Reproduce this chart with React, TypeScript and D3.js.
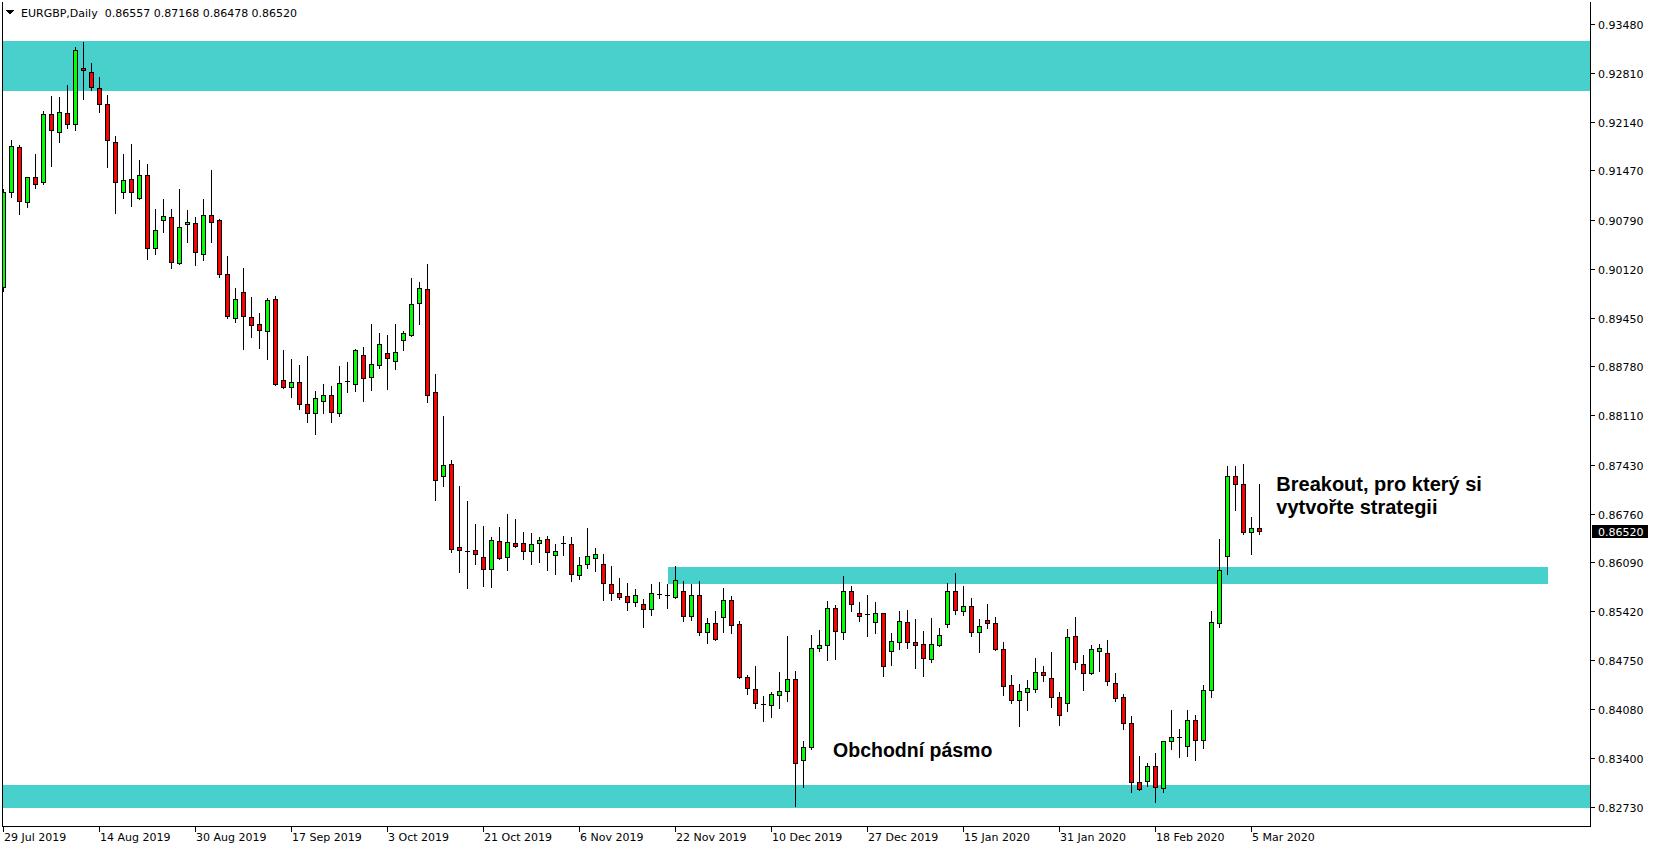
import React from "react";
import * as d3 from "d3";

const W = 1654;
const H = 850;

const chartTitle = "EURGBP,Daily";
const headerOHLC = ["0.86557", "0.87168", "0.86478", "0.86520"];
const lastPrice = 0.8652;

const opens = [
  0.89874, 0.91178, 0.91788, 0.91041, 0.91376, 0.91316, 0.9224, 0.92002, 0.92254, 0.92111,
  0.92872, 0.92816, 0.92597, 0.92378, 0.91856, 0.91169, 0.91349, 0.91095, 0.91403, 0.90409,
  0.90794, 0.90827, 0.90196, 0.90731, 0.90745, 0.9033, 0.90854, 0.90786, 0.90044, 0.8944,
  0.89797, 0.89454, 0.89358, 0.89262, 0.89702, 0.8859, 0.88494, 0.88562, 0.8826, 0.88137,
  0.88301, 0.88383, 0.88137, 0.88584, 0.88535, 0.88932, 0.88631, 0.88795, 0.8896, 0.8885,
  0.89139, 0.89207, 0.89647, 0.89839, 0.88424, 0.87272, 0.87437, 0.86298, 0.8625, 0.86256,
  0.8616, 0.85996, 0.8638, 0.8616, 0.86353, 0.86353, 0.86242, 0.86353, 0.86408, 0.86187,
  0.86353, 0.86339, 0.85913, 0.86064, 0.86146, 0.86064, 0.8579, 0.85666, 0.85625, 0.85542,
  0.85515, 0.85447, 0.8566, 0.85646, 0.85611, 0.85693, 0.8535, 0.85638, 0.8513, 0.85255,
  0.85337, 0.8557, 0.85241, 0.84513, 0.84349, 0.84151, 0.84129, 0.84266, 0.84321, 0.84486,
  0.83374, 0.83553, 0.84911, 0.84952, 0.8546, 0.8513, 0.85693, 0.85392, 0.85382, 0.85268,
  0.85392, 0.8487, 0.84993, 0.85268, 0.84993, 0.84966, 0.8476, 0.84952, 0.85241, 0.85693,
  0.85419, 0.85487, 0.8513, 0.85296, 0.85255, 0.84898, 0.84403, 0.84198, 0.84307, 0.84349,
  0.84581, 0.84499, 0.8424, 0.84157, 0.85075, 0.84692, 0.84568, 0.8487, 0.84843, 0.84431,
  0.8424, 0.83882, 0.83072, 0.83086, 0.83292, 0.8299, 0.83635, 0.83694, 0.83566, 0.83923,
  0.83649, 0.84335, 0.85255, 0.86174, 0.87272, 0.87162, 0.86503, 0.86557,
];
const highs = [
  0.91212, 0.91888, 0.91815, 0.9138, 0.91691, 0.92285, 0.92492, 0.92478, 0.92642, 0.9316,
  0.93228, 0.92941, 0.92748, 0.92501, 0.91939, 0.91691, 0.91829, 0.91609, 0.91554, 0.90937,
  0.91074, 0.90937, 0.91212, 0.90923, 0.90827, 0.91074, 0.91472, 0.908, 0.90292, 0.89852,
  0.90127, 0.89729, 0.89509, 0.89715, 0.89743, 0.89001, 0.88878, 0.88795, 0.88919, 0.88438,
  0.88535, 0.88508, 0.88782, 0.88836, 0.89016, 0.89043, 0.89358, 0.89235, 0.89207, 0.89358,
  0.89262, 0.89989, 0.89934, 0.90182, 0.88672, 0.88096, 0.87492, 0.87135, 0.86929, 0.86613,
  0.86586, 0.86435, 0.86572, 0.8675, 0.86682, 0.86503, 0.8649, 0.86435, 0.86449, 0.86339,
  0.86449, 0.86435, 0.8616, 0.86558, 0.86284, 0.86201, 0.86036, 0.85872, 0.85804, 0.85721,
  0.85584, 0.8579, 0.85817, 0.8579, 0.86036, 0.85831, 0.8579, 0.85831, 0.85323, 0.85419,
  0.85735, 0.85625, 0.85282, 0.8454, 0.84665, 0.84253, 0.84307, 0.84581, 0.85076, 0.84595,
  0.83635, 0.85089, 0.85158, 0.85556, 0.85501, 0.859, 0.85763, 0.85542, 0.85638, 0.85542,
  0.854, 0.85117, 0.85419, 0.85433, 0.8531, 0.85144, 0.85323, 0.85185, 0.85804, 0.8594,
  0.85763, 0.85598, 0.8531, 0.85515, 0.85337, 0.84993, 0.8454, 0.84417, 0.84472, 0.84774,
  0.84665, 0.84857, 0.84307, 0.85172, 0.85337, 0.84815, 0.84952, 0.84966, 0.85021, 0.84568,
  0.8428, 0.83977, 0.83429, 0.83333, 0.8347, 0.8364, 0.8406, 0.838, 0.8406, 0.83991,
  0.84403, 0.85419, 0.86408, 0.8741, 0.8741, 0.87437, 0.86709, 0.87168,
];
const lows = [
  0.89819, 0.91109, 0.90876, 0.90972, 0.91233, 0.91288, 0.91531, 0.91865, 0.92056, 0.92029,
  0.92455, 0.9257, 0.92276, 0.91521, 0.9089, 0.91095, 0.90986, 0.91082, 0.90259, 0.90327,
  0.90629, 0.90135, 0.9019, 0.90492, 0.90176, 0.90245, 0.90492, 0.90011, 0.89448, 0.89394,
  0.89024, 0.89188, 0.89037, 0.88886, 0.8853, 0.8848, 0.88356, 0.88192, 0.88013, 0.87848,
  0.88137, 0.88013, 0.88096, 0.88424, 0.88438, 0.88301, 0.88452, 0.88754, 0.88467, 0.88741,
  0.89001, 0.89194, 0.89358, 0.88287, 0.86943, 0.87135, 0.86228, 0.85954, 0.85735, 0.86064,
  0.85763, 0.85749, 0.86133, 0.85982, 0.86298, 0.86133, 0.86064, 0.86091, 0.85982, 0.85927,
  0.86187, 0.85831, 0.85859, 0.86009, 0.85968, 0.8557, 0.8557, 0.85584, 0.85433, 0.85487,
  0.852, 0.85364, 0.85598, 0.8546, 0.85598, 0.85282, 0.85296, 0.85089, 0.8498, 0.8503,
  0.8513, 0.85117, 0.845, 0.8428, 0.84088, 0.83909, 0.83964, 0.84088, 0.84184, 0.82743,
  0.83004, 0.83525, 0.8487, 0.84747, 0.8476, 0.85035, 0.85419, 0.85282, 0.85075, 0.85117,
  0.84527, 0.84678, 0.84898, 0.84911, 0.84637, 0.84527, 0.84719, 0.84945, 0.852, 0.85378,
  0.85364, 0.85075, 0.84857, 0.85185, 0.84884, 0.84266, 0.84157, 0.83841, 0.8406, 0.84307,
  0.84458, 0.84102, 0.83855, 0.84046, 0.84623, 0.84335, 0.8456, 0.84595, 0.84403, 0.84184,
  0.838, 0.82934, 0.82963, 0.83018, 0.82797, 0.82934, 0.83525, 0.83415, 0.83429, 0.83374,
  0.83539, 0.8424, 0.852, 0.85927, 0.86805, 0.86476, 0.86201, 0.86478,
];
const closes = [
  0.91178, 0.91802, 0.91054, 0.91376, 0.91288, 0.9224, 0.92021, 0.92267, 0.92111, 0.93119,
  0.92844, 0.92611, 0.92378, 0.91884, 0.91307, 0.91335, 0.91178, 0.91403, 0.90401, 0.90648,
  0.90841, 0.90209, 0.9069, 0.90758, 0.90346, 0.90854, 0.90758, 0.90044, 0.89468, 0.89702,
  0.89468, 0.89344, 0.89276, 0.89688, 0.88535, 0.88494, 0.88562, 0.8826, 0.88137, 0.88342,
  0.88383, 0.8815, 0.88549, 0.88584, 0.89001, 0.88617, 0.88809, 0.89084, 0.88891, 0.88973,
  0.89235, 0.89633, 0.89852, 0.88383, 0.87217, 0.87423, 0.86271, 0.86256, 0.8625, 0.86201,
  0.85996, 0.86394, 0.86146, 0.86366, 0.86312, 0.86242, 0.86339, 0.86394, 0.86228, 0.86242,
  0.86353, 0.85927, 0.8605, 0.86174, 0.86201, 0.85804, 0.85666, 0.85611, 0.85542, 0.85638,
  0.85447, 0.85666, 0.8566, 0.85646, 0.85845, 0.8535, 0.85638, 0.8513, 0.85255, 0.85035,
  0.8557, 0.85227, 0.84513, 0.84362, 0.84157, 0.84151, 0.8428, 0.84321, 0.84486, 0.83333,
  0.83553, 0.84911, 0.84952, 0.8546, 0.85144, 0.85693, 0.85515, 0.8535, 0.85382, 0.85392,
  0.84665, 0.85007, 0.85282, 0.84993, 0.84952, 0.84774, 0.84966, 0.85089, 0.85693, 0.85433,
  0.85487, 0.8513, 0.85214, 0.85255, 0.84898, 0.8439, 0.84198, 0.84321, 0.84362, 0.84581,
  0.8454, 0.8424, 0.83991, 0.85062, 0.84719, 0.84568, 0.84898, 0.84911, 0.84458, 0.84225,
  0.83882, 0.83072, 0.82977, 0.83292, 0.83004, 0.83635, 0.8369, 0.83694, 0.83923, 0.83649,
  0.84335, 0.85268, 0.85982, 0.87272, 0.87162, 0.86503, 0.86558, 0.8652,
];

const priceTicks = [
  0.9348, 0.9281, 0.9214, 0.9147, 0.9079, 0.9012, 0.8945, 0.8878, 0.8811, 0.8743,
  0.8676, 0.8609, 0.8542, 0.8475, 0.8408, 0.834, 0.8273,
];
const dateTickLabels = [
  "29 Jul 2019", "14 Aug 2019", "30 Aug 2019", "17 Sep 2019", "3 Oct 2019", "21 Oct 2019",
  "6 Nov 2019", "22 Nov 2019", "10 Dec 2019", "27 Dec 2019", "15 Jan 2020", "31 Jan 2020",
  "18 Feb 2020", "5 Mar 2020",
];
const barsPerDateTick = 12;

// zones: [priceLow, priceHigh, barStart, barEnd]
const zoneTop = [0.9256, 0.93246, -5, 260];
const zoneMid = [0.85794, 0.86027, 83, 193];
const zoneBottom = [0.82724, 0.83035, -5, 260];

const noteBreakout = ["Breakout, pro který si", "vytvořte strategii"];
const noteBreakoutAnchor = [159.1, 0.87074, 0.86754];
const noteRange = "Obchodní pásmo";
const noteRangeAnchor = [103.7, 0.83423];

const PLOT = { left: 2, right: 1590, top: 2, bottom: 826 };
const AXIS_FONT = "'DejaVu Sans', Tahoma, sans-serif";
const NOTE_FONT = "'Liberation Sans', Arial, sans-serif";

export default function App() {
  const x = d3.scaleLinear().domain([0, 1]).range([3.5, 11.5]);
  const y = d3.scaleLinear().domain([0.8273, 0.9348]).range([807.3, 24]);
  const snap = (v: number) => Math.round(v) + 0.5;

  const candles = opens.map((o, i) => ({ o, h: highs[i], l: lows[i], c: closes[i], i }));

  const zoneRect = (z: number[], key: string) => {
    const x0 = Math.max(PLOT.left, x(z[2]));
    const x1 = Math.min(PLOT.right, x(z[3]));
    const y0 = Math.round(y(z[1]));
    const y1 = Math.round(y(z[0]));
    return <rect key={key} x={x0} y={y0} width={x1 - x0} height={y1 - y0} fill="#48D1CC" />;
  };

  return (
    <svg
      width={W}
      height={H}
      style={{ position: "absolute", left: 0, top: 0, background: "#fff" }}
      shapeRendering="crispEdges"
    >
      <rect x={0} y={0} width={W} height={H} fill="#fff" />
      <defs>
        <clipPath id="plotClip">
          <rect x={PLOT.left} y={PLOT.top} width={PLOT.right - PLOT.left} height={PLOT.bottom - PLOT.top} />
        </clipPath>
      </defs>
      <g clipPath="url(#plotClip)">
        {zoneRect(zoneTop, "zt")}
        {zoneRect(zoneMid, "zm")}
        {zoneRect(zoneBottom, "zb")}
        {candles.map((d) => {
          const cx = snap(x(d.i) - 0.5);
          const yo = Math.round(y(d.o));
          const yc = Math.round(y(d.c));
          const top = Math.min(yo, yc);
          const bot = Math.max(yo, yc);
          const fill = d.c > d.o ? "#00ff00" : d.c < d.o ? "#ff0000" : "none";
          return (
            <g key={d.i}>
              <line x1={cx} x2={cx} y1={Math.round(y(d.h))} y2={Math.round(y(d.l)) + 1} stroke="#000" strokeWidth={1} />
              {bot - top >= 1 ? (
                <rect x={cx - 2} y={top + 0.5} width={4} height={bot - top} fill={fill} stroke="#000" strokeWidth={1} />
              ) : (
                <line x1={cx - 2.5} x2={cx + 2.5} y1={top + 0.5} y2={top + 0.5} stroke="#000" strokeWidth={1} />
              )}
            </g>
          );
        })}
      </g>

      {/* annotations */}
      <g fontFamily={NOTE_FONT} fontWeight="bold" fill="#000" shapeRendering="auto">
        <text x={x(noteBreakoutAnchor[0])} y={y(noteBreakoutAnchor[1])} fontSize={20}>{noteBreakout[0]}</text>
        <text x={x(noteBreakoutAnchor[0])} y={y(noteBreakoutAnchor[2])} fontSize={20}>{noteBreakout[1]}</text>
        <text x={x(noteRangeAnchor[0])} y={y(noteRangeAnchor[1])} fontSize={19.5}>{noteRange}</text>
      </g>

      {/* frame */}
      <line x1={PLOT.left + 0.5} x2={PLOT.left + 0.5} y1={PLOT.top} y2={PLOT.bottom + 1} stroke="#000" />
      <line x1={PLOT.right + 0.5} x2={PLOT.right + 0.5} y1={PLOT.top} y2={PLOT.bottom + 1} stroke="#000" />
      <line x1={PLOT.left} x2={PLOT.right + 1} y1={PLOT.bottom + 0.5} y2={PLOT.bottom + 0.5} stroke="#000" />

      {/* price axis */}
      <g fontFamily={AXIS_FONT} fontSize={11} fill="#000">
        {priceTicks.map((p) => {
          const ty = Math.round(y(p)) + 0.5;
          return (
            <g key={p}>
              <line x1={PLOT.right + 1} x2={PLOT.right + 5} y1={ty} y2={ty} stroke="#000" />
              <text x={PLOT.right + 8} y={ty + 4} shapeRendering="auto">{d3.format(".5f")(p)}</text>
            </g>
          );
        })}
        <rect x={PLOT.right + 2} y={Math.round(y(lastPrice)) - 6} width={56} height={13} fill="#000" />
        <text x={PLOT.right + 8} y={Math.round(y(lastPrice)) + 4.5} fill="#fff" shapeRendering="auto">
          {d3.format(".5f")(lastPrice)}
        </text>
      </g>

      {/* date axis */}
      <g fontFamily={AXIS_FONT} fontSize={11} fill="#000">
        {dateTickLabels.map((lab, k) => {
          const tx = snap(x(k * barsPerDateTick) - 0.5);
          return (
            <g key={lab}>
              <line x1={tx} x2={tx} y1={PLOT.bottom + 1} y2={PLOT.bottom + 6} stroke="#000" />
              <text x={tx + 0.5} y={841} shapeRendering="auto">{lab}</text>
            </g>
          );
        })}
      </g>

      {/* header */}
      <polygon points="6,10 14,10 10,15" fill="#000" />
      <text x={21} y={17} fontFamily={AXIS_FONT} fontSize={11} fill="#000">
        {chartTitle + "\u00a0\u00a0" + headerOHLC.join(" ")}
      </text>
    </svg>
  );
}
